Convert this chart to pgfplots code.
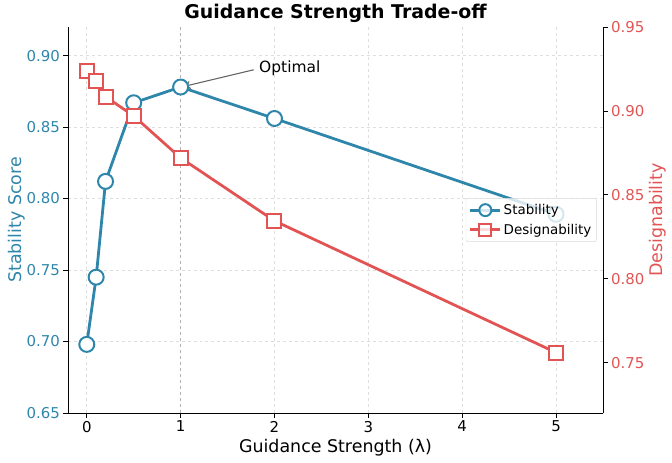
\documentclass[border=0pt]{standalone}
\usepackage{pgfplots}
\pgfplotsset{compat=1.18}
\usepackage{fontspec}
\setmainfont{DejaVu Sans}
\usetikzlibrary{calc, arrows.meta}
\definecolor{stab}{RGB}{46,134,171}
\definecolor{desg}{RGB}{226,84,84}
\definecolor{gridc}{RGB}{222,222,222}

\pgfplotstableread{
x     stab
0     0.698
0.1   0.745
0.2   0.812
0.5   0.867
1     0.878
2     0.856
5     0.789
}\stabtab

\pgfplotstableread{
x     des
0     0.924
0.1   0.918
0.2   0.9085
0.5   0.897
1     0.872
2     0.8345
5     0.756
}\destab

\pgfplotsset{
  common/.style={
    scale only axis, width=535bp, height=386bp,
    xmin=-0.2, xmax=5.5,
    /pgf/number format/assume math mode=true,
    tick label style={font=\fontsize{15}{17}\selectfont},
    label style={font=\fontsize{17.5}{20}\selectfont},
    tick align=outside, major tick length=4.5bp,
    every tick/.style={black, line width=0.8pt},
    axis line style={line width=0.8pt},
  },
  longlegend/.style={
    legend image code/.code={
      \draw[mark repeat=2, mark phase=2, ##1, mark size=6bp]
        plot coordinates {(0bp,0bp) (15bp,0bp) (30bp,0bp)};
    },
  },
}

\begin{document}
\begin{tikzpicture}
\begin{axis}[common, name=ax,
    ymin=0.65, ymax=0.92,
    ytick={0.65,0.70,...,0.901},
    yticklabel style={text=stab, /pgf/number format/.cd, fixed, fixed zerofill, precision=2},
    xtick={0,1,2,3,4,5},
    axis y line*=left, axis x line*=bottom,
    grid=major,
    major grid style={gridc, dashed, line width=0.6pt},
    xlabel={Guidance Strength (λ)},
    ylabel={Stability Score}, ylabel style={text=stab}, ylabel shift=-5bp,
    title={Guidance Strength Trade-off},
    title style={font=\bfseries\fontsize{19}{21}\selectfont, yshift=-5bp},
  ]
  \addplot[gray!60, dashed, line width=1.2pt, forget plot] coordinates {(1,0.65) (1,0.92)};
  \addplot[stab, line width=2.8pt, mark=*, mark size=7.5bp,
           mark options={fill=white, draw=stab, line width=2pt}] table[x=x, y=stab] {\stabtab};
  \node[anchor=base west, font=\fontsize{15.5}{17}\selectfont] (opt) at (axis cs:1.8,0.8885) {Optimal};
  \draw[-{To[length=6bp,width=8bp]}, black!60, line width=1.1pt] ($(opt.west)+(-2bp,-2bp)$) -- (axis cs:1.04,0.8785);
\end{axis}

\begin{axis}[common, longlegend,
    ymin=0.72, ymax=0.95,
    ytick={0.75,0.80,...,0.951},
    yticklabel style={text=desg, /pgf/number format/.cd, fixed, fixed zerofill, precision=2},
    axis y line*=right, axis x line=none,
    ylabel={Designability}, ylabel style={text=desg}, ylabel shift=-2bp,
    legend style={at={(0.988,0.5)}, anchor=east, font=\fontsize{13.5}{15}\selectfont,
                  draw=black!15, rounded corners=2pt, fill=white, fill opacity=0.8, text opacity=1,
                  row sep=4bp, inner xsep=3bp, inner ysep=4bp},
    legend cell align=left,
  ]
  \addlegendimage{stab, line width=2.8pt, mark=*,
                  mark options={fill=white, draw=stab, line width=2pt}}
  \addlegendentry{Stability}
  \addplot[desg, line width=2.8pt, mark=square*, mark size=7bp,
           mark options={fill=white, draw=desg, line width=2pt}] table[x=x, y=des] {\destab};
  \addlegendentry{Designability}
\end{axis}

\pgfresetboundingbox
\path[use as bounding box] ($(ax.south west)+(-68bp,-50bp)$) rectangle ($(ax.north east)+(69bp,27bp)$);
\end{tikzpicture}
\end{document}
